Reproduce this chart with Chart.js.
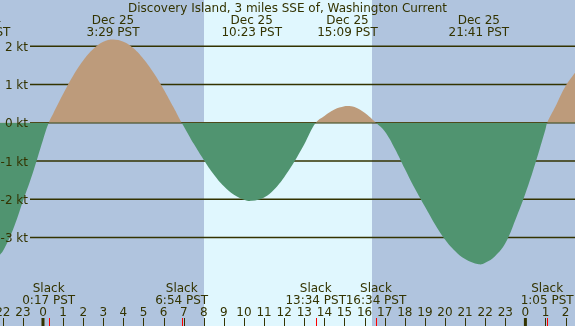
<!DOCTYPE html>
<html>
<head>
<meta charset="utf-8">
<script src="https://cdn.jsdelivr.net/npm/chart.js@4/dist/chart.umd.min.js"></script>
<style>
  html, body { margin: 0; padding: 0; background: #b0c4de; }
  canvas { display: block; }
</style>
</head>
<body>
<canvas id="chart" width="575" height="326"></canvas>
<script>
// hours relative to Dec 25 00:00 PST, current in knots
const hours = [
  -2.2, -2, -1.5, -1, -0.5, 0, 0.283,
  0.5, 1, 1.5, 2, 2.5, 3, 3.483, 4, 4.5, 5, 5.5, 6, 6.5, 6.9,
  7, 7.5, 8, 8.5, 9, 9.5, 10, 10.383, 11, 11.5, 12, 12.5, 13, 13.567,
  14, 14.5, 15, 15.15, 15.5, 16, 16.567,
  17, 17.5, 18, 18.5, 19, 19.5, 20, 20.5, 21, 21.683, 22, 22.5, 23, 23.5, 24, 24.5, 25, 25.083,
  25.5, 26, 26.5,
]
const knots = [
  -3.48, -3.36, -2.8, -2.05, -1.3, -0.45, 0,
  0.23, 0.75, 1.23, 1.63, 1.93, 2.12, 2.18, 2.12, 1.95, 1.67, 1.31, 0.88, 0.40, 0,
  -0.09, -0.55, -0.97, -1.35, -1.66, -1.88, -2.01, -2.04, -1.95, -1.74, -1.42, -1.02, -0.56, 0,
  0.18, 0.35, 0.43, 0.44, 0.41, 0.26, 0,
  -0.22, -0.67, -1.2, -1.72, -2.19, -2.65, -3.05, -3.35, -3.56, -3.7, -3.66, -3.48, -3.15, -2.54, -1.85, -1.05, -0.17, 0,
  0.43, 0.96, 1.33,
]

const extremeTimes = [-3.13, 3.483, 10.383, 15.15, 21.683]
const extremeDates = ['Dec 24', 'Dec 25', 'Dec 25', 'Dec 25', 'Dec 25']
const extremeLabels = ['20:52 PST', '3:29 PST', '10:23 PST', '15:09 PST', '21:41 PST']

const slackTimes = [0.283, 6.9, 13.567, 16.567, 25.083]
const slackLabels = ['0:17 PST', '6:54 PST', '13:34 PST', '16:34 PST', '1:05 PST']

const daylight = [8.01, 16.37]
const hourTicks = [-2, -1, 0, 1, 2, 3, 4, 5, 6, 7, 8, 9, 10, 11, 12, 13, 14, 15, 16, 17, 18, 19, 20, 21, 22, 23, 24, 25, 26]
const knotTicks = [2, 1, 0, -1, -2, -3]

const title = 'Discovery Island, 3 miles SSE of, Washington Current'

const NIGHT = '#b0c4de'
const DAY = '#e0f7fe'
const FLOOD = '#bd9b7b'
const EBB = '#509470'
const INK = '#333300'
const FONT = '12px "DejaVu Sans"'

const backdrop = {
  id: 'backdrop',
  beforeDraw(chart) {
    const { ctx, scales: { x } } = chart
    ctx.save()
    ctx.fillStyle = NIGHT
    ctx.fillRect(0, 0, chart.width, chart.height)
    ctx.fillStyle = DAY
    const x0 = Math.round(x.getPixelForValue(daylight[0]))
    const x1 = Math.round(x.getPixelForValue(daylight[1]))
    ctx.fillRect(x0, 0, x1 - x0, chart.height)
    ctx.restore()
  },
  beforeDatasetsDraw(chart) {
    const { ctx, scales: { y } } = chart
    ctx.save()
    ctx.strokeStyle = INK
    ctx.lineWidth = 1.5
    knotTicks.forEach((k) => {
      const py = y.getPixelForValue(k)
      ctx.beginPath()
      ctx.moveTo(30, py)
      ctx.lineTo(chart.width, py)
      ctx.stroke()
    })
    ctx.restore()
  },
  afterDatasetsDraw(chart) {
    const { ctx, scales: { x, y } } = chart
    ctx.save()
    ctx.font = FONT
    ctx.fillStyle = INK

    // y labels
    ctx.textAlign = 'right'
    knotTicks.forEach((k) => {
      ctx.fillText(`${k} kt`, 28, y.getPixelForValue(k) + 4.5)
    })

    ctx.textAlign = 'center'
    ctx.fillText(title, chart.width / 2, 12)

    extremeTimes.forEach((t, i) => {
      const px = x.getPixelForValue(t)
      ctx.fillText(extremeDates[i], px, 24)
      ctx.fillText(extremeLabels[i], px, 36)
    })

    slackTimes.forEach((t, i) => {
      const px = x.getPixelForValue(t)
      ctx.fillText('Slack', px, 292)
      ctx.fillText(slackLabels[i], px, 304)
    })

    // hour axis
    hourTicks.forEach((h) => {
      const px = x.getPixelForValue(h)
      const hr = ((h % 24) + 24) % 24
      ctx.fillStyle = INK
      ctx.fillText(String(hr), px, 316)
      if (hr === 0)
        ctx.fillRect(px - 1.5, 318, 3, 8)
      else
        ctx.fillRect(Math.round(px), 318, 1, 8)
    })
    ctx.fillStyle = '#ff0000'
    slackTimes.forEach((t) => {
      const px = x.getPixelForValue(t)
      ctx.fillRect(Math.round(px), 318, 1, 8)
    })
    ctx.restore()
  },
}

new Chart(document.getElementById('chart'), {
  type: 'line',
  data: {
    datasets: [{
      data: hours.map((h, i) => ({ x: h, y: knots[i] })),
      borderWidth: 0,
      borderColor: 'rgba(0,0,0,0)',
      pointRadius: 0,
      tension: 0.4,
      fill: { target: 'origin', above: FLOOD, below: EBB },
    }],
  },
  options: {
    responsive: false,
    animation: false,
    events: [],
    layout: { padding: 0 },
    plugins: { legend: { display: false }, tooltip: { enabled: false } },
    scales: {
      x: { type: 'linear', display: false, min: -2.139, max: 26.468 },
      y: { type: 'linear', display: false, min: -5.311, max: 3.21 },
    },
  },
  plugins: [backdrop],
})
</script>
</body>
</html>
